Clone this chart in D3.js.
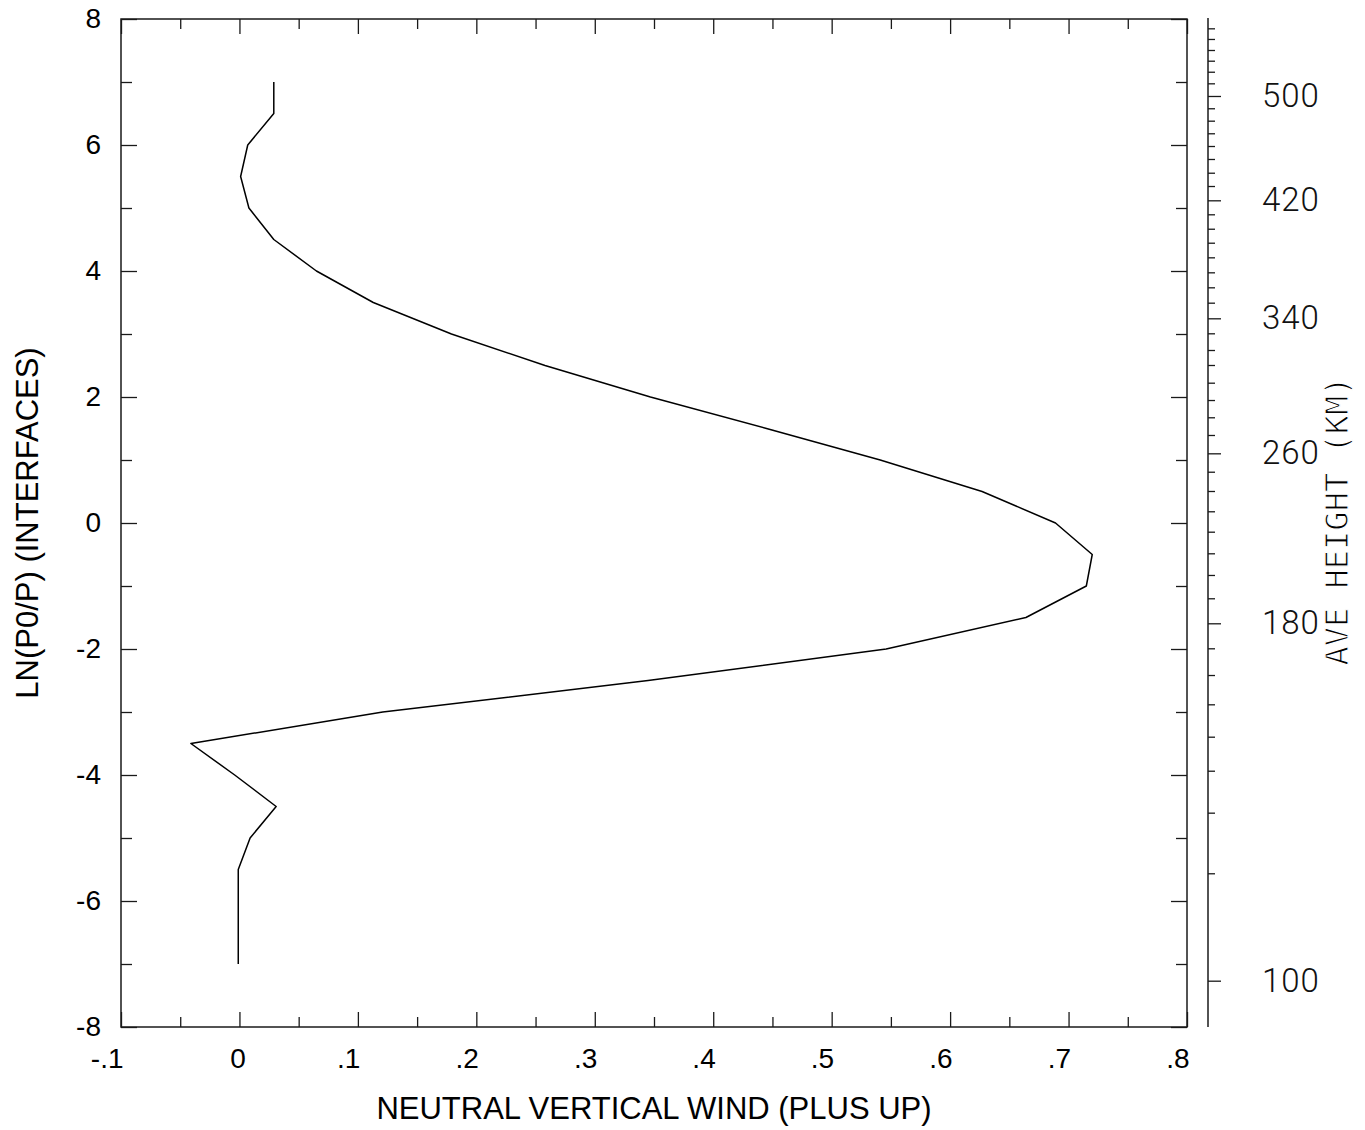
<!DOCTYPE html>
<html>
<head>
<meta charset="utf-8">
<script src="https://cdn.jsdelivr.net/npm/d3@7"></script>
<style>
  html, body { margin: 0; padding: 0; background: #fff; }
  svg { display: block; }
</style>
</head>
<body>
<svg id="chart" width="1365" height="1130"></svg>
<script>
// ---- data ----
const lnP = [-7, -6.5, -6, -5.5, -5, -4.5, -4, -3.5, -3, -2.5, -2, -1.5, -1, -0.5, 0,
             0.5, 1, 1.5, 2, 2.5, 3, 3.5, 4, 4.5, 5, 5.5, 6, 6.5, 7];
const wind = [-0.001, -0.001, -0.001, -0.001, 0.009, 0.031, -0.004, -0.041, 0.121, 0.345, 0.546, 0.664, 0.715, 0.720, 0.689,
              0.627, 0.541, 0.445, 0.347, 0.258, 0.179, 0.113, 0.065, 0.029, 0.008, 0.001, 0.007, 0.029, 0.029];

const xMajorTicks = [-0.1, 0, 0.1, 0.2, 0.3, 0.4, 0.5, 0.6, 0.7, 0.8];
const xMinorTicks = [-0.05, 0.05, 0.15, 0.25, 0.35, 0.45, 0.55, 0.65, 0.75];
const xTickLabels = ["-.1", "0", ".1", ".2", ".3", ".4", ".5", ".6", ".7", ".8"];
const yMajorTicks = [-8, -6, -4, -2, 0, 2, 4, 6, 8];
const yTickLabels = ["-8", "-6", "-4", "-2", "0", "2", "4", "6", "8"];
const yMinorTicks = [-7, -5, -3, -1, 1, 3, 5, 7];

// average height (km) vs ln(p0/p) position on the right-hand axis
const heightVals = [100, 110, 120, 130, 140, 150, 160, 170, 180, 190, 200, 210, 220, 230, 240, 250,
                    260, 270, 280, 290, 300, 310, 320, 330, 340, 350, 360, 370, 380, 390, 400,
                    410, 420, 430, 440, 450, 460, 470, 480, 490, 500, 510, 520, 530, 540, 550, 560];
const heightZ = [-7.265, -5.560, -4.598, -3.932, -3.392, -2.878, -2.413, -1.989, -1.592, -1.195, -0.825, -0.481, -0.138, 0.186, 0.508, 0.814,
                 1.106, 1.397, 1.678, 1.952, 2.227, 2.508, 2.746, 3.011, 3.249, 3.497, 3.741, 3.979, 4.217, 4.449, 4.671,
                 4.900, 5.122, 5.349, 5.560, 5.778, 5.984, 6.186, 6.386, 6.583, 6.778, 6.979, 7.163, 7.338, 7.508, 7.683, 7.852];
const heightLabelTicks = [100, 180, 260, 340, 420, 500];

const xTitle = "NEUTRAL VERTICAL WIND (PLUS UP)";
const yTitle = "LN(P0/P) (INTERFACES)";
const y2Title = "AVE HEIGHT (KM)";

// ---- layout ----
const L = 121, R = 1187, T = 19, B = 1027;
const RX = 1208; // right height axis position

const svg = d3.select("#chart");
const x = d3.scaleLinear().domain([-0.1, 0.8]).range([L, R]);
const y = d3.scaleLinear().domain([-8, 8]).range([B, T]);
const yh = d3.scaleLinear().domain(heightVals).range(heightZ.map(z => y(z)));

const ink = "#1a1a1a";
const tickFont = "Liberation Sans, Arial, Helvetica, sans-serif";

function styleAxis(g) {
  g.select(".domain").remove();
  g.selectAll(".tick line").attr("stroke", ink).attr("stroke-width", 1.3);
  g.selectAll(".tick text").attr("fill", "#000").style("font-family", tickFont).style("font-size", "28px");
}

// left axis
svg.append("g").attr("transform", `translate(${L},0)`)
  .call(d3.axisLeft(y).tickValues(yMajorTicks).tickSize(-16).tickPadding(20)
        .tickFormat((d, i) => yTickLabels[i]))
  .call(styleAxis);
svg.append("g").attr("transform", `translate(${L},0)`)
  .call(d3.axisLeft(y).tickValues(yMinorTicks).tickSize(-11).tickFormat(""))
  .call(styleAxis);
// right frame ticks
svg.append("g").attr("transform", `translate(${R},0)`)
  .call(d3.axisRight(y).tickValues(yMajorTicks).tickSize(-16).tickFormat(""))
  .call(styleAxis);
svg.append("g").attr("transform", `translate(${R},0)`)
  .call(d3.axisRight(y).tickValues(yMinorTicks).tickSize(-11).tickFormat(""))
  .call(styleAxis);
// bottom axis
const xb = svg.append("g").attr("transform", `translate(0,${B})`)
  .call(d3.axisBottom(x).tickValues(xMajorTicks).tickSize(-15).tickPadding(21)
        .tickFormat((d, i) => xTickLabels[i]))
  .call(styleAxis);
xb.selectAll(".tick text")
  .attr("text-anchor", d => d === 0 ? "middle" : "end")
  .attr("x", d => d === 0 ? -2 : 2);
svg.append("g").attr("transform", `translate(0,${B})`)
  .call(d3.axisBottom(x).tickValues(xMinorTicks).tickSize(-10).tickFormat(""))
  .call(styleAxis);
// top frame ticks
svg.append("g").attr("transform", `translate(0,${T})`)
  .call(d3.axisTop(x).tickValues(xMajorTicks).tickSize(-15).tickFormat(""))
  .call(styleAxis);
svg.append("g").attr("transform", `translate(0,${T})`)
  .call(d3.axisTop(x).tickValues(xMinorTicks).tickSize(-10).tickFormat(""))
  .call(styleAxis);

// frame
svg.append("rect").attr("x", L).attr("y", T).attr("width", R - L).attr("height", B - T)
  .attr("fill", "none").attr("stroke", ink).attr("stroke-width", 1.5);

// right height axis
const hAxisG = svg.append("g").attr("transform", `translate(${RX},0)`);
hAxisG.append("line").attr("x1", 0).attr("x2", 0).attr("y1", 18).attr("y2", B)
  .attr("stroke", ink).attr("stroke-width", 1.5);
const minorH = heightVals.filter(h => !heightLabelTicks.includes(h));
hAxisG.append("g")
  .call(d3.axisRight(yh).tickValues(minorH).tickSize(7).tickFormat(""))
  .call(styleAxis);
const hMaj = hAxisG.append("g")
  .call(d3.axisRight(yh).tickValues(heightLabelTicks).tickSize(13).tickPadding(41).tickFormat(d3.format("d")))
  .call(styleAxis);
hMaj.selectAll(".tick text")
  .style("font-family", "Roboto, 'Open Sans', sans-serif").style("font-size", "33px")
  .style("font-weight", "300").style("letter-spacing", "1px")
  .attr("fill", "#111");

// data line
const line = d3.line().x(d => x(d.w)).y(d => y(d.z));
const pts = lnP.map((z, i) => ({ z: z, w: wind[i] }));
svg.append("path").datum(pts).attr("d", line)
  .attr("fill", "none").attr("stroke", "#000").attr("stroke-width", 1.5).attr("stroke-linejoin", "round");

// titles
svg.append("text").attr("x", (L + R) / 2).attr("y", 1119)
  .attr("text-anchor", "middle").style("font-family", tickFont).style("font-size", "31px")
  .attr("fill", "#000").text(xTitle);
svg.append("text").attr("transform", `translate(38,${(T + B) / 2}) rotate(-90)`)
  .attr("text-anchor", "middle").style("font-family", tickFont).style("font-size", "31px")
  .attr("fill", "#000").text(yTitle);
svg.append("text").attr("transform", `translate(1348,521) rotate(-90)`)
  .attr("text-anchor", "middle").style("font-family", "DejaVu Sans Mono, monospace").style("font-size", "32px")
  .attr("fill", "#000").attr("stroke", "#fff").attr("stroke-width", 1.1).text(y2Title);
</script>
</body>
</html>
